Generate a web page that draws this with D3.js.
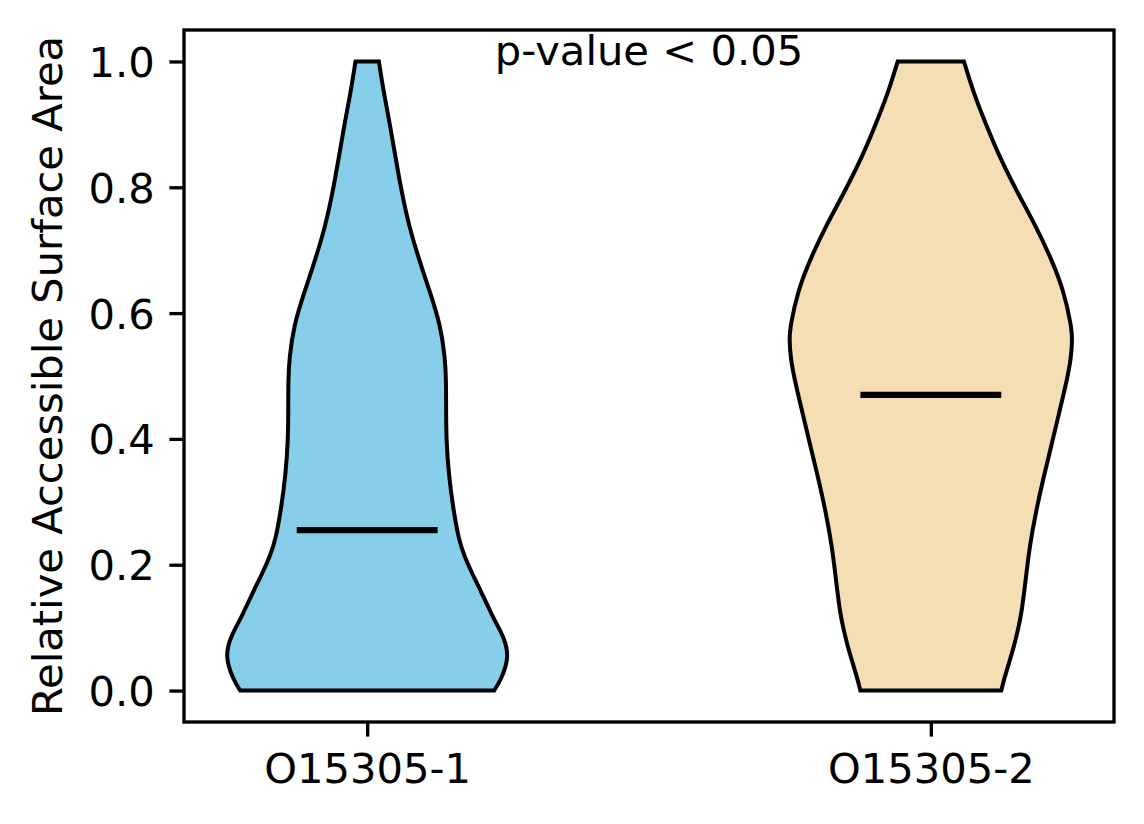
<!DOCTYPE html>
<html>
<head>
<meta charset="utf-8">
<script src="https://cdn.jsdelivr.net/npm/d3@7"></script>
<style>
  body { margin: 0; background: #fff; }
  text { font-family: "DejaVu Sans", sans-serif; }
</style>
</head>
<body>
<div id="chart"></div>
<script>
// groups on the x axis
const categories = ["O15305-1", "O15305-2"]
const positions = [1, 2]
const fills = ["#87CEEB", "#F5DEB3"]
const medians = [0.255, 0.47]

// violin outlines: RSA level and relative half width (1 = widest)
const levels1 = [0.00, 0.017, 0.054, 0.086, 0.108, 0.134, 0.160, 0.187, 0.213, 0.240, 0.293, 0.345, 0.398, 0.44, 0.494, 0.528, 0.581, 0.634, 0.687, 0.74, 0.792, 0.845, 0.898, 0.95, 1.0]
const widths1 = [0.901, 0.95, 1.01, 0.968, 0.912, 0.857, 0.803, 0.743, 0.691, 0.649, 0.608, 0.578, 0.562, 0.56, 0.56, 0.553, 0.52, 0.445, 0.365, 0.295, 0.245, 0.203, 0.163, 0.118, 0.083]
const levels2 = [0.00, 0.018, 0.044, 0.071, 0.097, 0.124, 0.176, 0.229, 0.282, 0.335, 0.388, 0.441, 0.494, 0.528, 0.56, 0.581, 0.634, 0.687, 0.74, 0.792, 0.845, 0.898, 0.95, 1.0]
const widths2 = [0.5, 0.52, 0.555, 0.591, 0.619, 0.645, 0.673, 0.701, 0.744, 0.796, 0.854, 0.91, 0.967, 0.995, 1.005, 0.995, 0.946, 0.854, 0.741, 0.614, 0.494, 0.395, 0.303, 0.235]

const yTicks = [0.0, 0.2, 0.4, 0.6, 0.8, 1.0]
const yLabel = "Relative Accessible Surface Area"
const note = "p-value < 0.05"

const W = 1144, H = 824
const fs = 41.67
const box = { left: 184, right: 1114, top: 30, bottom: 722 }
const halfWidth = 0.25

const x = d3.scaleLinear().domain([0.675, 2.325]).range([box.left, box.right])
const y = d3.scaleLinear().domain([-0.05, 1.05]).range([box.bottom, box.top])

const svg = d3.select("#chart").append("svg")
  .attr("width", W).attr("height", H)

const violins = [
  { pos: positions[0], fill: fills[0], median: medians[0], pts: levels1.map((v, i) => ({ v: v, w: widths1[i] })) },
  { pos: positions[1], fill: fills[1], median: medians[1], pts: levels2.map((v, i) => ({ v: v, w: widths2[i] })) },
]

const g = svg.append("g")

g.selectAll(".violin")
  .data(violins)
  .enter().append("path")
  .attr("class", "violin")
  .attr("d", function (d) {
    return d3.area()
      .curve(d3.curveBasis)
      .y(p => y(p.v))
      .x0(p => x(d.pos - halfWidth * p.w))
      .x1(p => x(d.pos + halfWidth * p.w))(d.pts)
  })
  .style("fill", d => d.fill)
  .style("stroke", "#000")
  .style("stroke-width", 4)
  .style("stroke-linejoin", "miter")

g.selectAll(".median")
  .data(violins)
  .enter().append("line")
  .attr("class", "median")
  .attr("x1", d => x(d.pos - halfWidth / 2))
  .attr("x2", d => x(d.pos + halfWidth / 2))
  .attr("y1", d => y(d.median))
  .attr("y2", d => y(d.median))
  .style("stroke", "#000")
  .style("stroke-width", 6.25)

// axes
const yAxis = svg.append("g")
  .attr("transform", `translate(${box.left},0)`)
  .call(d3.axisLeft(y).tickValues(yTicks).tickFormat(d3.format(".1f")).tickSize(14.6).tickPadding(14.6))
const xAxis = svg.append("g")
  .attr("transform", `translate(0,${box.bottom})`)
  .call(d3.axisBottom(x).tickValues(positions).tickFormat((d, i) => categories[i]).tickSize(14.6).tickPadding(14.6))

svg.selectAll(".domain").remove()
svg.selectAll(".tick line").style("stroke", "#000").style("stroke-width", 3.33)
svg.selectAll(".tick text").style("font-size", fs + "px").style("fill", "#000")
  .style("font-family", "DejaVu Sans")
yAxis.selectAll(".tick text").attr("dy", "0.36em")
xAxis.selectAll(".tick text").attr("dy", "0.76em")

svg.append("rect")
  .attr("x", box.left).attr("y", box.top)
  .attr("width", box.right - box.left).attr("height", box.bottom - box.top)
  .style("fill", "none").style("stroke", "#000").style("stroke-width", 3.33)

svg.append("text")
  .attr("transform", `translate(62,${(box.top + box.bottom) / 2}) rotate(-90)`)
  .attr("text-anchor", "middle")
  .style("font-size", fs + "px")
  .text(yLabel)

svg.append("text")
  .attr("x", x(1.5))
  .attr("y", y(1.0) + 4)
  .attr("text-anchor", "middle")
  .style("font-size", fs + "px")
  .text(note)
</script>
</body>
</html>
